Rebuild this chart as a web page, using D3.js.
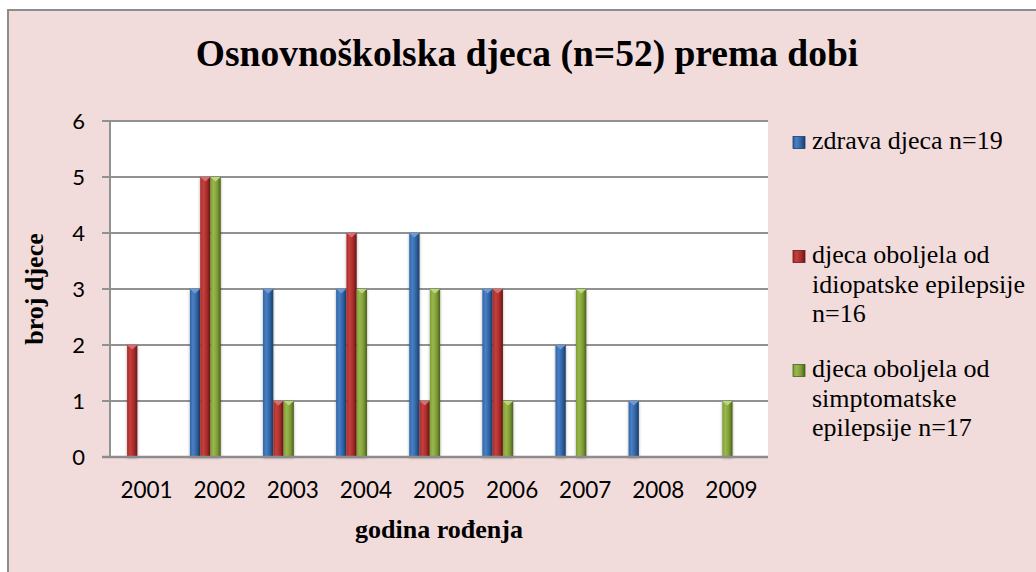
<!DOCTYPE html>
<html>
<head>
<meta charset="utf-8">
<script src="https://cdn.jsdelivr.net/npm/d3@7"></script>
<style>
  body { margin: 0; background: #fff; }
  svg { display: block; }
  .serif { font-family: "Liberation Serif", "DejaVu Serif", "Times New Roman", Times, serif; }
  .sans { font-family: Lato, "Open Sans", sans-serif; }
</style>
</head>
<body>
<script>
// data
const years = ["2001", "2002", "2003", "2004", "2005", "2006", "2007", "2008", "2009"];
const seriesNames = ["zdrava", "idiopatske", "simptomatske"];
const zdrava = [0, 3, 3, 3, 4, 3, 2, 1, 0];
const idiopatske = [2, 5, 1, 4, 1, 3, 0, 0, 0];
const simptomatske = [0, 5, 1, 3, 3, 1, 3, 0, 1];
const yTicks = [0, 1, 2, 3, 4, 5, 6];
const legendLines = [
    ["zdrava djeca n=19"],
    ["djeca oboljela od", "idiopatske epilepsije", "n=16"],
    ["djeca oboljela od", "simptomatske", "epilepsije n=17"]
];

const W = 1036, H = 572;
let margin = {top: 121, right: 268, bottom: 115, left: 110};

const colors = {
    zdrava:       {dark: "#1d3d66", mid: "#2f64a5", light: "#4a7fc4", top: "#6f9fdc"},
    idiopatske:   {dark: "#6a1716", mid: "#a82c2a", light: "#c4403d", top: "#e07370"},
    simptomatske: {dark: "#4a601d", mid: "#7f9d36", light: "#98b84c", top: "#c2de7c"}
};

let svg = d3.select("body").append("svg")
    .attr("width", W)
    .attr("height", H);

let defs = svg.append("defs");
for (let k of seriesNames) {
    let c = colors[k];
    let g = defs.append("linearGradient")
        .attr("id", "grad-" + k)
        .attr("x1", "0%").attr("x2", "100%")
        .attr("y1", "0%").attr("y2", "0%");
    g.append("stop").attr("offset", "0%").attr("stop-color", c.mid);
    g.append("stop").attr("offset", "30%").attr("stop-color", c.light);
    g.append("stop").attr("offset", "65%").attr("stop-color", c.mid);
    g.append("stop").attr("offset", "100%").attr("stop-color", c.dark);
}
let shadow = defs.append("filter").attr("id", "shadow")
    .attr("x", "-50%").attr("y", "-10%").attr("width", "200%").attr("height", "120%");
shadow.append("feGaussianBlur").attr("in", "SourceAlpha").attr("stdDeviation", 1.5);
shadow.append("feOffset").attr("dx", 0).attr("dy", 1).attr("result", "b");
shadow.append("feComponentTransfer").append("feFuncA").attr("type", "linear").attr("slope", 0.35);
let fm = shadow.append("feMerge");
fm.append("feMergeNode");
fm.append("feMergeNode").attr("in", "SourceGraphic");

// chart area background + border
svg.append("rect")
    .attr("x", 8).attr("y", 10)
    .attr("width", W + 20).attr("height", H + 20)
    .attr("fill", "#f2dcdb")
    .attr("stroke", "#8c8c8c")
    .attr("stroke-width", 2);

let plotRight = W - margin.right;
let plotBottom = H - margin.bottom;

let x = d3.scaleBand(years, [margin.left, plotRight]);
let y = d3.scaleLinear([0, 6], [plotBottom, margin.top]);
let bw = x.bandwidth();
let xs = d3.scaleBand(seriesNames, [bw * 0.093, bw * 0.515]);

// plot area
svg.append("rect")
    .attr("x", margin.left).attr("y", margin.top)
    .attr("width", plotRight - margin.left)
    .attr("height", plotBottom - margin.top)
    .attr("fill", "#fff");

// gridlines
svg.append("g")
    .attr("stroke", "#919191")
    .attr("stroke-width", 2)
    .selectAll("line")
    .data(yTicks)
    .join("line")
      .attr("x1", margin.left - 8)
      .attr("x2", plotRight)
      .attr("y1", d => y(d))
      .attr("y2", d => y(d));

// y axis line
svg.append("line")
    .attr("x1", margin.left).attr("x2", margin.left)
    .attr("y1", margin.top - 1).attr("y2", plotBottom + 1)
    .attr("stroke", "#919191")
    .attr("stroke-width", 2);

// y tick labels
svg.append("g")
    .selectAll("text")
    .data(yTicks)
    .join("text")
      .attr("class", "sans")
      .attr("x", margin.left - 25)
      .attr("y", d => y(d))
      .attr("dy", "0.36em")
      .attr("text-anchor", "end")
      .attr("font-size", 22)
      .text(d => d);

// x tick labels
svg.append("g")
    .selectAll("text")
    .data(years)
    .join("text")
      .attr("class", "sans")
      .attr("x", d => x(d) + bw / 2)
      .attr("y", plotBottom + 41)
      .attr("text-anchor", "middle")
      .attr("font-size", 22.5)
      .text(d => d);

// bars
let values = {zdrava, idiopatske, simptomatske};
let rows = [];
for (let k of seriesNames) {
    values[k].forEach((v, i) => rows.push({key: k, year: years[i], v}));
}
let bars = svg.append("g")
    .selectAll("g")
    .data(rows.filter(d => d.v > 0))
    .join("g")
      .attr("transform", d => `translate(${x(d.year) + xs(d.key)},0)`);

bars.append("rect")
    .attr("x", 0)
    .attr("y", d => y(d.v))
    .attr("width", xs.bandwidth())
    .attr("height", d => y(0) - y(d.v))
    .attr("fill", d => `url(#grad-${d.key})`)
    .attr("filter", "url(#shadow)");

// bevel point on top
bars.append("path")
    .attr("d", d => {
        let w = xs.bandwidth(), t = y(d.v);
        return `M0,${t}L${w},${t}L${w / 2},${t + 4.5}Z`;
    })
    .attr("fill", d => colors[d.key].top)
    .attr("opacity", 0.9);

// x axis line over bars
svg.append("line")
    .attr("x1", margin.left - 8).attr("x2", plotRight)
    .attr("y1", plotBottom).attr("y2", plotBottom)
    .attr("stroke", "#8c8c8c")
    .attr("stroke-width", 2.5);

// title and axis titles
svg.append("text")
    .attr("class", "serif")
    .attr("x", 527).attr("y", 66)
    .attr("text-anchor", "middle")
    .attr("font-weight", "bold")
    .attr("font-size", 37.5)
    .text("Osnovnoškolska djeca (n=52) prema dobi");

svg.append("text")
    .attr("class", "serif")
    .attr("x", (margin.left + plotRight) / 2).attr("y", 538)
    .attr("text-anchor", "middle")
    .attr("font-weight", "bold")
    .attr("font-size", 26)
    .text("godina rođenja");

svg.append("text")
    .attr("class", "serif")
    .attr("transform", `translate(43,${(margin.top + plotBottom) / 2}) rotate(-90)`)
    .attr("text-anchor", "middle")
    .attr("font-weight", "bold")
    .attr("font-size", 26)
    .text("broj djece");

// legend
const legendTop = [149, 263, 377];
let legend = svg.append("g")
    .selectAll("g")
    .data(seriesNames)
    .join("g")
      .attr("transform", (d, i) => `translate(793,${legendTop[i]})`);

legend.append("rect")
    .attr("x", 0).attr("y", -12.5)
    .attr("width", 12).attr("height", 12)
    .attr("fill", d => `url(#grad-${d})`)
    .attr("stroke", d => colors[d].dark)
    .attr("stroke-width", 0.8);

legend.append("text")
    .attr("class", "serif")
    .attr("font-size", 26)
    .selectAll("tspan")
    .data((d, i) => legendLines[i])
    .join("tspan")
      .attr("x", 19)
      .attr("y", (d, j) => j * 29.5)
      .text(d => d);
</script>
</body>
</html>
